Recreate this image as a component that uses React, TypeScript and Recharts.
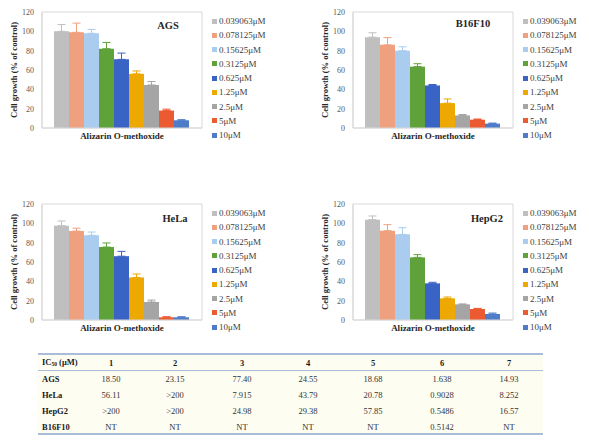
import React from "react";
import { BarChart, Bar, XAxis, YAxis, ErrorBar, Legend, ReferenceArea } from "recharts";

const CONCENTRATIONS = ["0.039063μM", "0.078125μM", "0.15625μM", "0.3125μM", "0.625μM", "1.25μM", "2.5μM", "5μM", "10μM"];
const BAR_COLORS = ["#BFBFBF", "#EFA07E", "#A9CCEF", "#5FA23A", "#3A63C6", "#EDA802", "#A5A5A5", "#EB5A30", "#4E7CC9"];
const Y_TICKS = [0, 20, 40, 60, 80, 100, 120];
const X_CATEGORY = "Alizarin O-methoxide";

// cell growth (% of control), mean and upper error per concentration
const AGS_MEAN = [100, 99, 98, 82, 71, 56, 44.5, 18, 8];
const AGS_SD = [7, 9.5, 4, 6.5, 6.5, 3, 3.5, 1.5, 0.6];
const B16F10_MEAN = [94, 86, 80, 63.5, 44, 25.7, 13, 8.6, 4.5];
const B16F10_SD = [4.5, 7.5, 4, 3, 1, 4.3, 1, 0.7, 0.6];
const HELA_MEAN = [97.6, 92, 87.6, 75.5, 66, 44, 18.6, 2.8, 2.8];
const HELA_SD = [4.8, 3, 3.4, 4.2, 5, 3.6, 2, 0.6, 0.6];
const HEPG2_MEAN = [103.8, 92.4, 88.6, 64.8, 37.9, 22.4, 16.2, 11.4, 6.2];
const HEPG2_SD = [3.8, 6.2, 6.9, 2.8, 1.1, 1.4, 0.4, 0.6, 1];

// IC50 table
const TABLE_COLUMNS = ["1", "2", "3", "4", "5", "6", "7"];
const TABLE_ROWS = ["AGS", "HeLa", "HepG2", "B16F10"];
const IC50_AGS = ["18.50", "23.15", "77.40", "24.55", "18.68", "1.638", "14.93"];
const IC50_HELA = ["56.11", ">200", "7.915", "43.79", "20.78", "0.9028", "8.252"];
const IC50_HEPG2 = [">200", ">200", "24.98", "29.38", "57.85", "0.5486", "16.57"];
const IC50_B16F10 = ["NT", "NT", "NT", "NT", "NT", "0.5142", "NT"];

const FONT = '"Liberation Serif", "Times New Roman", serif';

function buildData(mean: number[], sd: number[]) {
  const row: any = { name: X_CATEGORY };
  mean.forEach((v, i) => {
    row[`c${i}`] = v;
    row[`e${i}`] = [0, sd[i]];
  });
  return [row];
}

// keep the legend in concentration order (recharts sorts its payload by name)
const renderLegend = () => (
  <div style={{ fontFamily: FONT, fontSize: 9, color: "#404040" }}>
    {CONCENTRATIONS.map((c, i) => (
      <div key={c} style={{ height: 14.25, display: "flex", alignItems: "center", whiteSpace: "nowrap" }}>
        <span style={{ width: 5, height: 5, background: BAR_COLORS[i], marginRight: 2, display: "inline-block" }} />
        <span>{c}</span>
      </div>
    ))}
  </div>
);

interface PanelProps {
  title: string;
  mean: number[];
  sd: number[];
  left: number;
  top: number;
  titleX: number;
  titleY: number;
}

function Panel({ title, mean, sd, left, top, titleX, titleY }: PanelProps) {
  const data = buildData(mean, sd);
  return (
    <div style={{ position: "absolute", left, top, width: 290, height: 150 }}>
      <BarChart width={290} height={150} data={data} margin={{ top: 12, right: 88, bottom: 2, left: 0 }} barCategoryGap="7.5%" barGap={0}>
        <XAxis
          dataKey="name"
          height={20}
          tickLine={false}
          tickSize={0}
          tickMargin={5}
          axisLine={{ stroke: "#D9D9D9" }}
          tick={{ fontFamily: FONT, fontSize: 9, fontWeight: "bold", fill: "#262626" }}
        />
        <YAxis
          width={42}
          domain={[0, 120]}
          ticks={Y_TICKS}
          tickLine={false}
          axisLine={{ stroke: "#D9D9D9" }}
          tick={{ fontFamily: FONT, fontSize: 8, fill: "#595959" }}
          label={{
            value: "Cell growth (% of control)",
            angle: -90,
            position: "insideLeft",
            offset: 14,
            style: { textAnchor: "middle", fontFamily: FONT, fontSize: 8.5, fontWeight: "bold", fill: "#262626" },
          }}
        />
        <ReferenceArea y1={0} y2={120} fill="none" stroke="#D9D9D9" />
        {CONCENTRATIONS.map((c, i) => (
          <Bar key={c} dataKey={`c${i}`} name={c} fill={BAR_COLORS[i]} isAnimationActive={false}>
            <ErrorBar dataKey={`e${i}`} width={4} strokeWidth={1} stroke={BAR_COLORS[i]} direction="y" />
          </Bar>
        ))}
        <Legend
          layout="vertical"
          align="center"
          verticalAlign="middle"
          content={renderLegend}
          wrapperStyle={{ left: 212, top: 14, width: 78 }}
        />
      </BarChart>
      <div
        style={{
          position: "absolute",
          left: titleX,
          top: titleY,
          transform: "translate(-50%, -50%)",
          fontFamily: FONT,
          fontSize: 10.5,
          fontWeight: "bold",
          color: "#262626",
          whiteSpace: "nowrap",
        }}
      >
        {title}
      </div>
    </div>
  );
}

const COL_X = [111, 175, 242, 308, 373, 442, 509];
const ROW_Y = [379, 395, 411, 427];
const TABLE_VALUES = [IC50_AGS, IC50_HELA, IC50_HEPG2, IC50_B16F10];

function Ic50Table() {
  const cell = (x: number, y: number, text: React.ReactNode, bold: boolean, align: "left" | "center", key: string) => (
    <div
      key={key}
      style={{
        position: "absolute",
        left: x,
        top: y,
        transform: align === "center" ? "translate(-50%, -50%)" : "translate(0, -50%)",
        fontFamily: FONT,
        fontSize: 8.5,
        fontWeight: bold ? "bold" : "normal",
        color: bold ? "#1a1a1a" : "#333",
        whiteSpace: "nowrap",
        lineHeight: "10px",
      }}
    >
      {text}
    </div>
  );
  return (
    <>
      <div style={{ position: "absolute", left: 38, top: 355, width: 505, height: 78, background: "#FEFDF2" }} />
      <div style={{ position: "absolute", left: 38, top: 353, width: 505, height: 2, background: "#A9BCD8" }} />
      <div style={{ position: "absolute", left: 38, top: 369.5, width: 505, height: 1.5, background: "#A9BCD8" }} />
      <div style={{ position: "absolute", left: 38, top: 433, width: 505, height: 2, background: "#A9BCD8" }} />
      {cell(42, 363, <span>IC<span style={{ fontSize: 5.5, verticalAlign: "-1px" }}>50</span> (μM)</span>, true, "left", "h")}
      {TABLE_COLUMNS.map((c, j) => cell(COL_X[j], 363, c, true, "center", `hc${j}`))}
      {TABLE_ROWS.map((r, i) => cell(42, ROW_Y[i], r, true, "left", `r${i}`))}
      {TABLE_VALUES.map((vals, i) => vals.map((v, j) => cell(COL_X[j], ROW_Y[i], v, false, "center", `v${i}-${j}`)))}
    </>
  );
}

export default function App() {
  return (
    <div style={{ position: "absolute", left: 0, top: 0, width: 589, height: 443, overflow: "hidden", background: "#fff" }}>
      <Panel title="AGS" mean={AGS_MEAN} sd={AGS_SD} left={0} top={0} titleX={168} titleY={25} />
      <Panel title="B16F10" mean={B16F10_MEAN} sd={B16F10_SD} left={311} top={0} titleX={162} titleY={23} />
      <Panel title="HeLa" mean={HELA_MEAN} sd={HELA_SD} left={0} top={192} titleX={175} titleY={26} />
      <Panel title="HepG2" mean={HEPG2_MEAN} sd={HEPG2_SD} left={311} top={192} titleX={176} titleY={26} />
      <Ic50Table />
    </div>
  );
}
